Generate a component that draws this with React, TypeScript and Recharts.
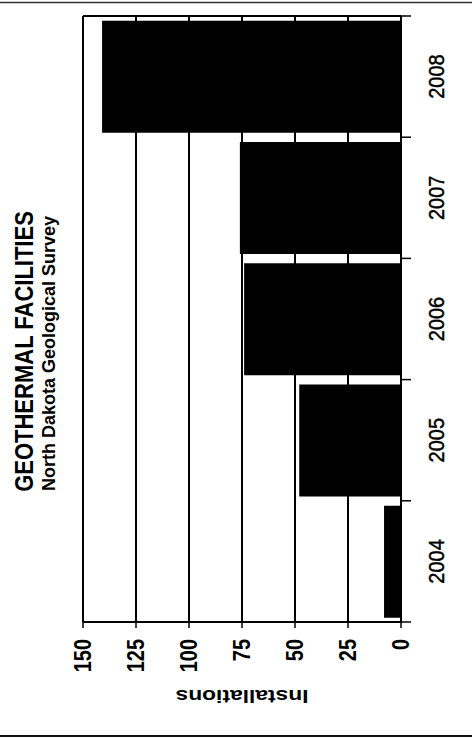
import React from 'react'
import { BarChart, Bar, XAxis, YAxis, CartesianGrid } from 'recharts'

const years = ['2004', '2005', '2006', '2007', '2008']
const installations = [8, 48, 74, 76, 141]
const valueTicks = [0, 25, 50, 75, 100, 125, 150]

const data = years.map((year, i) => ({ year, installations: installations[i] }))

const FONT = '"Liberation Sans", Arial, Helvetica, sans-serif'
const W = 472
const H = 739

const Y_TICK_SIZE = 8
const Y_TICK_MARGIN = 2

function ValueTick({ x, y, payload }: any) {
  return (
    <text
      transform={`translate(${x + 8}, ${y + 9}) rotate(-90) scale(1, 1.2)`}
      textAnchor="end"
      fontFamily={FONT}
      fontSize={20}
      fontWeight="bold"
      fill="#000"
    >
      {payload.value}
    </text>
  )
}

function YearTick({ x, y, payload }: any) {
  // Excel style: tick marks sit between categories, not at their centres
  const half = payload && payload.offset ? payload.offset : 60.6
  const ax = x - Y_TICK_SIZE - Y_TICK_MARGIN
  return (
    <g>
      <line x1={ax} x2={ax + 10} y1={y - half} y2={y - half} stroke="#000" strokeWidth={1.5} />
      {payload.value === years[0] && (
        <line x1={ax} x2={ax + 10} y1={y + half} y2={y + half} stroke="#000" strokeWidth={1.5} />
      )}
      <text
        transform={`translate(${x + 33}, ${y}) rotate(-90) scale(1, 1.12)`}
        textAnchor="middle"
        fontFamily={FONT}
        fontSize={20}
        fill="#000"
        stroke="#000"
        strokeWidth={0.4}
      >
        {payload.value}
      </text>
    </g>
  )
}

export default function App() {
  return (
    <div style={{ position: 'absolute', left: 0, top: 0, width: W, height: H, background: '#fff' }}>
      <BarChart
        width={W}
        height={H}
        data={data}
        layout="vertical"
        margin={{ top: 16, right: 0, bottom: 0, left: 83 }}
        barCategoryGap="4%"
      >
        <CartesianGrid
          stroke="#000"
          strokeWidth={2}
          strokeDasharray=""
          horizontalCoordinatesGenerator={({ offset }: any) => [offset.top]}
        />
        <XAxis
          type="number"
          dataKey="installations"
          domain={[0, 150]}
          ticks={valueTicks}
          reversed
          height={117}
          tickSize={6}
          tickMargin={2}
          axisLine={{ stroke: '#000', strokeWidth: 2 }}
          tickLine={{ stroke: '#000', strokeWidth: 1.5 }}
          tick={<ValueTick />}
          interval={0}
        />
        <YAxis
          type="category"
          dataKey="year"
          orientation="right"
          reversed
          width={W - 401}
          tickSize={Y_TICK_SIZE}
          tickMargin={Y_TICK_MARGIN}
          axisLine={{ stroke: '#000', strokeWidth: 2 }}
          tickLine={false}
          tick={<YearTick />}
          interval={0}
        />
        <Bar dataKey="installations" fill="#000" isAnimationActive={false} />
      </BarChart>

      <svg
        width={W}
        height={H}
        style={{ position: 'absolute', left: 0, top: 0, pointerEvents: 'none' }}
      >
        <line x1={0} x2={W} y1={2.5} y2={2.5} stroke="#333" strokeWidth={1.5} />
        <line x1={0} x2={W} y1={736} y2={736} stroke="#111" strokeWidth={2} />
        <text
          transform="translate(33, 351.5) rotate(-90) scale(1, 1.13)"
          textAnchor="middle"
          fontFamily={FONT}
          fontSize={22}
          fontWeight="bold"
          fill="#000"
        >
          GEOTHERMAL FACILITIES
        </text>
        <text
          transform="translate(55, 353.5) rotate(-90)"
          textAnchor="middle"
          fontFamily={FONT}
          fontSize={18}
          fontWeight="bold"
          fill="#000"
        >
          North Dakota Geological Survey
        </text>
        <text
          transform="translate(242, 690) rotate(180) scale(1.2, 1)"
          textAnchor="middle"
          fontFamily={FONT}
          fontSize={19}
          fontWeight="bold"
          fill="#000"
        >
          Installations
        </text>
      </svg>
    </div>
  )
}
